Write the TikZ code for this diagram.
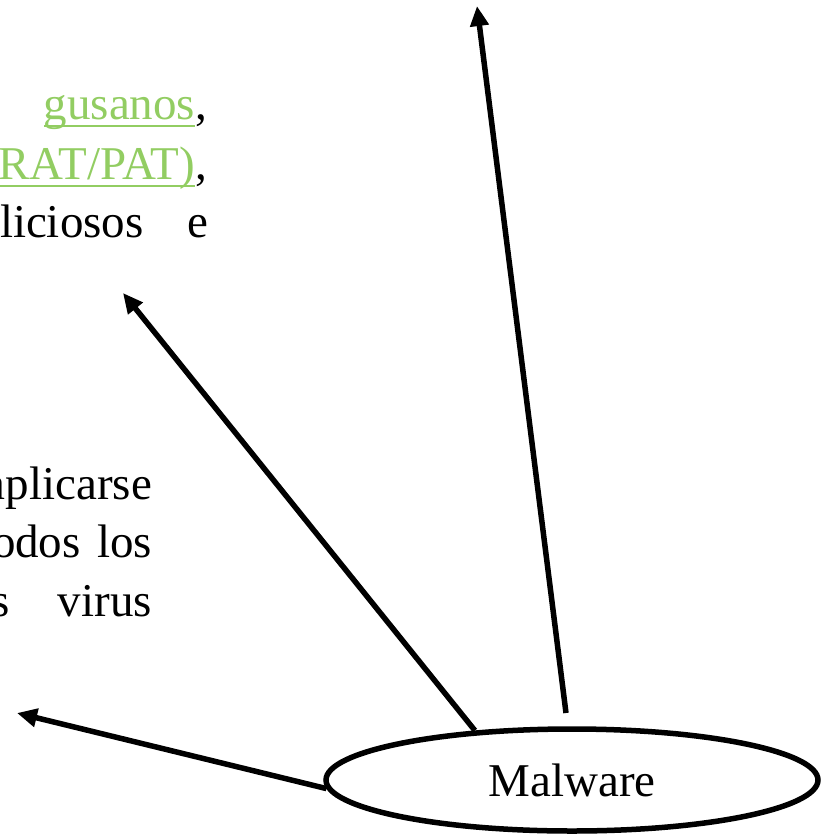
\documentclass[tikz,border=0pt]{standalone}
\usepackage{fontspec}
\setmainfont{Liberation Serif}
\usetikzlibrary{arrows.meta,shapes.geometric}
\definecolor{linkgreen}{RGB}{146,205,98}
% green, underlined link text
\newcommand\linkword[1]{{\color{linkgreen}\setbox0\hbox{#1}\rlap{\rule[-8pt]{\wd0}{2.2pt}}\box0}}

\begin{document}
\begin{tikzpicture}[x=1pt,y=-1pt,
  bodytext/.style={inner sep=0pt,outer sep=0pt,font=\fontsize{47}{58}\selectfont,anchor=base east},
  bubble/.style={draw,ellipse,line width=5.5pt,minimum width=492pt,minimum height=102pt,
    inner sep=0pt,font=\fontsize{47}{58}\selectfont},
  link/.style={line width=5.5pt,-{Triangle[length=20pt,width=18pt]}}]
\useasboundingbox (0,0) rectangle (835,836);
\clip (0,0) rectangle (835,836);

% upper paragraph
\node[bodytext] (l1) at (207,119) {\linkword{gusanos},};
\node[bodytext] (l2) at (207,179) {\linkword{RAT/PAT)},};
\node[bodytext] (l3) at (208,237) {\hbox to 208pt{liciosos\hfill e}};

% lower paragraph
\node[bodytext] (m1) at (152,499) {aplicarse};
\node[bodytext] (m2) at (152,557) {\hbox to 160pt{odos\hfill los}};
\node[bodytext] (m3) at (152,616) {\hbox to 161pt{s\hfill virus}};

% central node
\node[bubble] (mw) at (572,780) {Malware};

% arrow ends
\coordinate (up) at (477,6);
\coordinate (upfoot) at (566,713);
\coordinate (mid) at (123,293);
\coordinate (left) at (17,713);

\draw[link] (upfoot) -- (up);
\draw[link] (mw.153) -- (mid);
\draw[link] (mw.182) -- (left);
\end{tikzpicture}
\end{document}
